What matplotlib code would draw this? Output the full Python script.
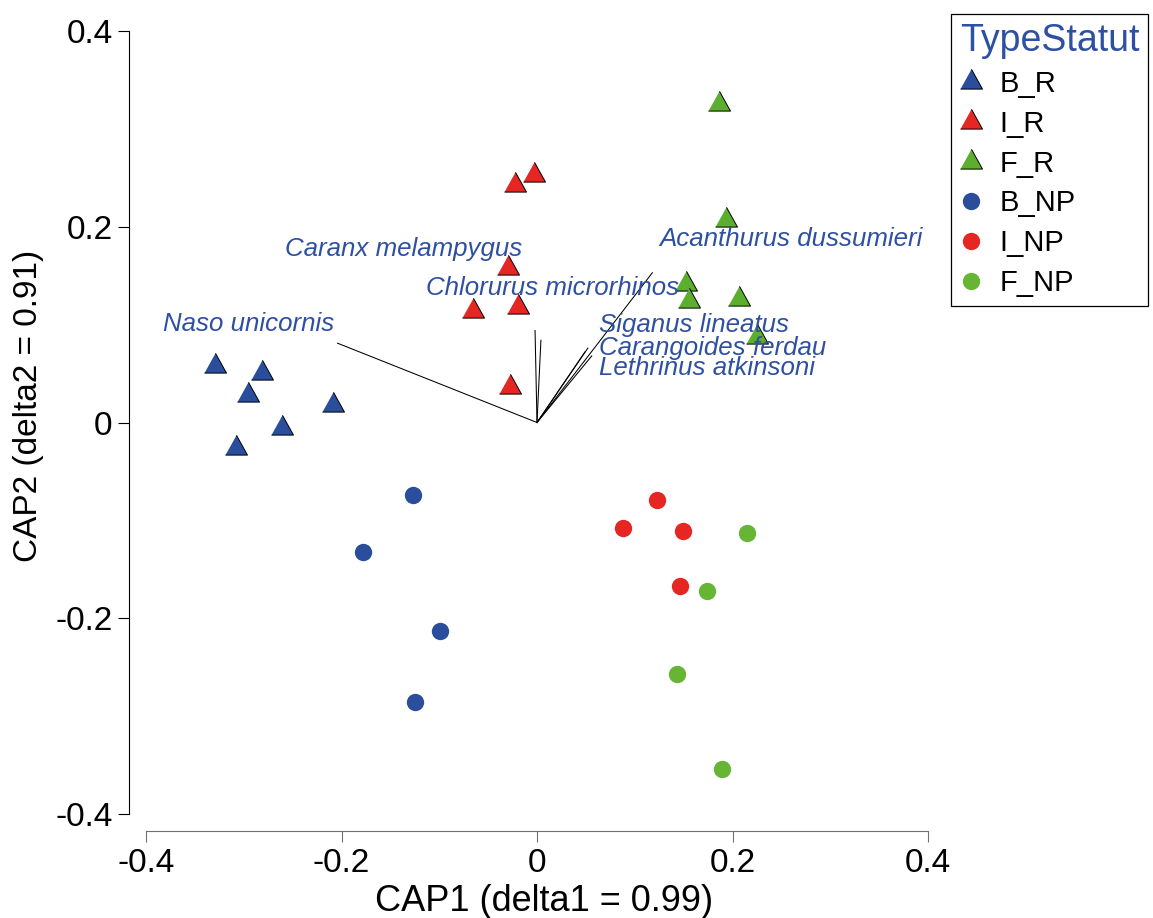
import matplotlib.pyplot as plt
from matplotlib.lines import Line2D

plt.rcParams['font.family'] = ['Liberation Sans', 'DejaVu Sans']

# CAP scores per sample group (CAP1, CAP2)
br_x = [-0.329, -0.281, -0.296, -0.209, -0.261, -0.308]
br_y = [0.058, 0.051, 0.028, 0.018, -0.006, -0.026]
ir_x = [-0.023, -0.003, -0.030, -0.065, -0.019, -0.028]
ir_y = [0.243, 0.253, 0.158, 0.114, 0.118, 0.036]
fr_x = [0.186, 0.193, 0.152, 0.156, 0.207, 0.225]
fr_y = [0.325, 0.207, 0.142, 0.124, 0.126, 0.087]
bnp_x = [-0.127, -0.178, -0.099, -0.125]
bnp_y = [-0.074, -0.132, -0.213, -0.286]
inp_x = [0.123, 0.088, 0.149, 0.146]
inp_y = [-0.079, -0.108, -0.111, -0.167]
fnp_x = [0.215, 0.174, 0.143, 0.189]
fnp_y = [-0.113, -0.172, -0.257, -0.354]

# species correlation vectors
vec_x = [-0.204, -0.002, 0.004, 0.118, 0.052, 0.049, 0.056]
vec_y = [0.081, 0.094, 0.084, 0.153, 0.076, 0.072, 0.068]

species = ["Naso unicornis", "Caranx melampygus", "Chlorurus microrhinos",
           "Acanthurus dussumieri", "Siganus lineatus", "Carangoides ferdau",
           "Lethrinus atkinsoni"]
species_x = [-0.383, -0.258, -0.114, 0.125, 0.063, 0.063, 0.063]
species_y = [0.093, 0.170, 0.130, 0.180, 0.092, 0.069, 0.0485]

blue = "#2A4D9C"
red = "#E52622"
green = "#5CAE2E"
green_c = "#67B534"
label_blue = "#2E50A2"

tri = [(-1, -0.6), (1, -0.6), (0, 1.2)]

fig = plt.figure(figsize=(11.53, 9.18), dpi=100)
ax = fig.add_axes([146 / 1153, 1 - 814 / 918, 782 / 1153, 783 / 918])

for x, y in zip(vec_x, vec_y):
    ax.plot([0, x], [0, y], color="black", lw=0.75, zorder=1)

ax.scatter(br_x, br_y, marker=tri, s=19 ** 2, c=blue, edgecolors="black", linewidths=0.7, zorder=3)
ax.scatter(ir_x, ir_y, marker=tri, s=19 ** 2, c=red, edgecolors="black", linewidths=0.7, zorder=3)
ax.scatter(fr_x, fr_y, marker=tri, s=19 ** 2, c=green, edgecolors="black", linewidths=0.7, zorder=3)
ax.scatter(bnp_x, bnp_y, marker="o", s=12.5 ** 2, c=blue, linewidths=0, zorder=3)
ax.scatter(inp_x, inp_y, marker="o", s=12.5 ** 2, c=red, linewidths=0, zorder=3)
ax.scatter(fnp_x, fnp_y, marker="o", s=12.5 ** 2, c=green_c, linewidths=0, zorder=3)

for name, x, y in zip(species, species_x, species_y):
    ax.text(x, y, name, fontsize=18.6, style="italic", color=label_blue,
            ha="left", va="baseline", zorder=4, clip_on=False)

ax.set_xlim(-0.4, 0.4)
ax.set_ylim(-0.4, 0.4)
ticks = [-0.4, -0.2, 0, 0.2, 0.4]
tick_labels = ["-0.4", "-0.2", "0", "0.2", "0.4"]
ax.set_xticks(ticks)
ax.set_xticklabels(tick_labels)
ax.set_yticks(ticks)
ax.set_yticklabels(tick_labels)

for side in ["top", "right"]:
    ax.spines[side].set_visible(False)
ax.spines["left"].set_position(("outward", 12))
ax.spines["bottom"].set_position(("outward", 12.5))
ax.spines["left"].set_bounds(-0.4, 0.4)
ax.spines["bottom"].set_bounds(-0.4, 0.4)
ax.spines["left"].set_linewidth(0.8)
ax.spines["bottom"].set_linewidth(0.8)
ax.spines["bottom"].set_color("#707070")
ax.tick_params(axis="x", length=8, width=0.8, color="#707070", labelsize=24, pad=4)
ax.tick_params(axis="y", length=8, width=0.8, labelsize=24, pad=4)

ax.set_xlabel("CAP1 (delta1 = 0.99)", fontsize=26)
ax.set_ylabel("CAP2 (delta2 = 0.91)", fontsize=24)
ax.xaxis.set_label_coords((544 - 146) / 782, (814 - 884) / 783)
ax.yaxis.set_label_coords((44 - 146) / 782, (814 - 406) / 783)

handles = [
    Line2D([], [], ls="none", marker=tri, ms=19, mfc=blue, mec="black", mew=0.7),
    Line2D([], [], ls="none", marker=tri, ms=19, mfc=red, mec="black", mew=0.7),
    Line2D([], [], ls="none", marker=tri, ms=19, mfc=green, mec="black", mew=0.7),
    Line2D([], [], ls="none", marker="o", ms=12.5, mfc=blue, mew=0),
    Line2D([], [], ls="none", marker="o", ms=12.5, mfc=red, mew=0),
    Line2D([], [], ls="none", marker="o", ms=12.5, mfc=green_c, mew=0),
]
names = ["B_R", "I_R", "F_R", "B_NP", "I_NP", "F_NP"]
leg = fig.legend(handles, names, loc="upper left",
                 bbox_to_anchor=(951 / 1153, 1 - 14 / 918),
                 fontsize=21, title="TypeStatut", title_fontsize=27,
                 alignment="left", fancybox=False, edgecolor="black",
                 framealpha=1, borderpad=0.3, labelspacing=0.4,
                 handlelength=0.8, handletextpad=0.55, borderaxespad=0)
leg.get_title().set_color(label_blue)
leg.get_frame().set_linewidth(0.9)

fig.savefig("out.png", dpi=100)
